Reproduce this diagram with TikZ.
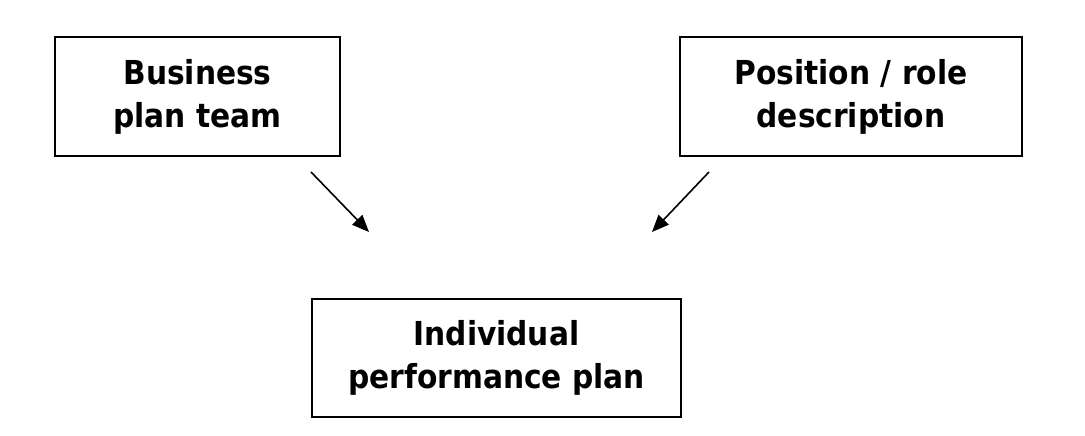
\documentclass[tikz,border=0pt]{standalone}
\usepackage{fontspec}
\newfontfamily\boxfont{DejaVu Sans Condensed}
\usetikzlibrary{arrows.meta}
\begin{document}
\begin{tikzpicture}[x=1pt,y=1pt,
  planbox/.style={draw=black, line width=1.8pt, inner sep=0pt, align=center,
    font=\boxfont\bfseries\fontsize{33}{43}\selectfont},
  flow/.style={line width=1.6pt, -{Triangle[length=17pt,width=14pt]}}]
  \useasboundingbox (0,0) rectangle (1085,436);
  % top row: the two inputs
  \node[planbox, minimum width=285, minimum height=119] (business) at (197.5,339.5)
    {Business\\plan team};
  \node[planbox, minimum width=342, minimum height=119] (position) at (851,339.5)
    {Position / role\\description};
  % bottom: the resulting plan
  \node[planbox, minimum width=369, minimum height=118] (individual) at (496.5,78)
    {Individual\\performance plan};
  % free-standing arrows between the rows
  \coordinate (bstart) at (311,264);
  \coordinate (bend) at (369,204);
  \coordinate (pstart) at (709,264);
  \coordinate (pend) at (652,204);
  \draw[flow] (bstart) -- (bend);
  \draw[flow] (pstart) -- (pend);
\end{tikzpicture}
\end{document}
